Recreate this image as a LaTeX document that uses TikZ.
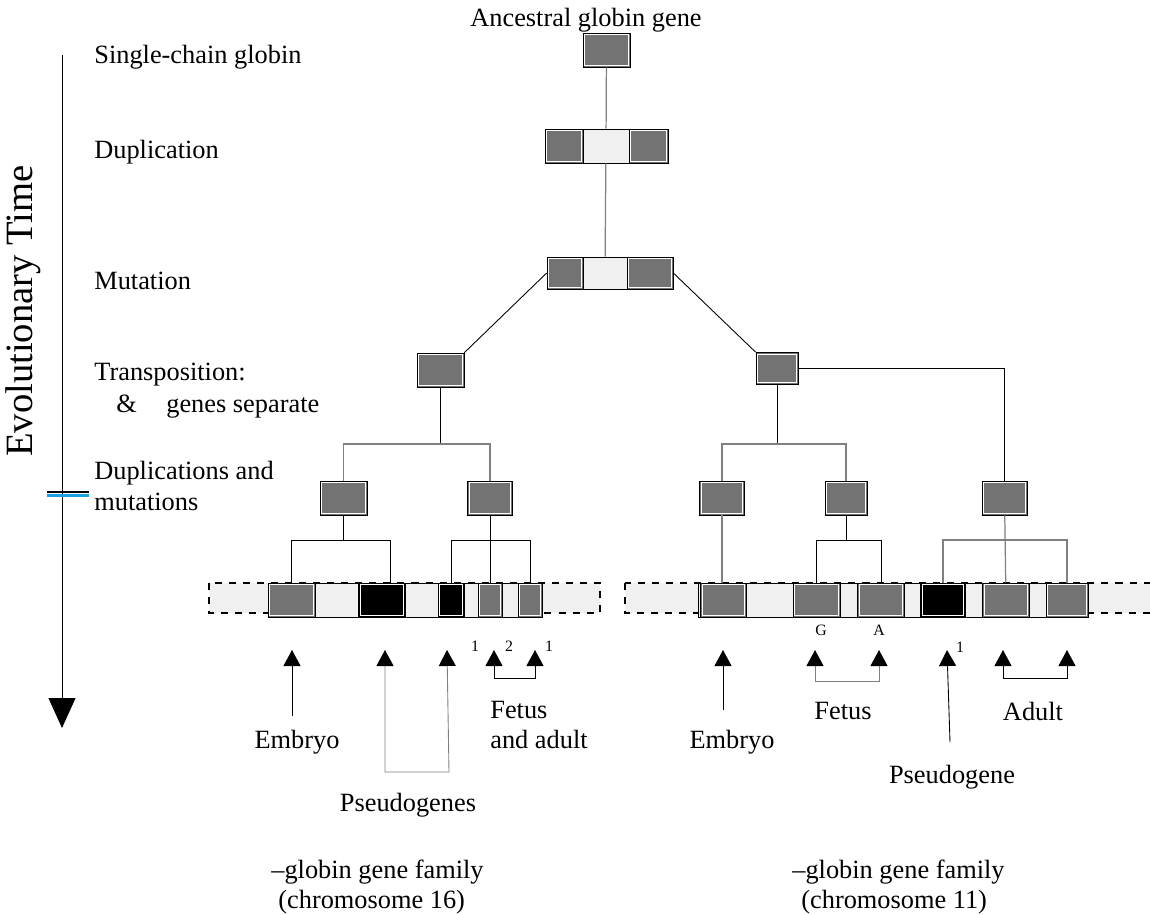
\documentclass[tikz,border=0pt]{standalone}
\usepackage{fontspec}
\setmainfont{Liberation Serif}
\usetikzlibrary{arrows.meta}
\definecolor{genegray}{HTML}{737373}
\definecolor{chromfill}{HTML}{F0F0F0}
\definecolor{tickblue}{HTML}{1BA1E2}
\tikzstyle{inset} = [
    path picture={
        \draw[white, line width=0.7pt]
            ([shift={(1pt,1pt)}]path picture bounding box.south west)
            rectangle
            ([shift={(-1pt,-1pt)}]path picture bounding box.north east);
    }
]
\tikzstyle{gene} = [
    rectangle,
    inner sep=0pt,
    draw=black,
    fill=genegray,
    inset
]
\tikzstyle{pseudo} = [
    rectangle,
    inner sep=0pt,
    draw=black,
    fill=black,
    inset
]
\tikzstyle{spacer} = [
    rectangle,
    inner sep=0pt,
    draw=black,
    fill=chromfill
]
\tikzstyle{caption} = [
    inner sep=0pt,
    font=\fontsize{15}{17.5}\selectfont
]
\tikzstyle{tiny} = [
    inner sep=0pt,
    font=\fontsize{9}{10}\selectfont
]
\tikzstyle{link} = [draw=black, line width=0.5pt]
\tikzstyle{linkgray} = [draw=gray, line width=0.7pt]
\tikzstyle{band} = [
    fill=chromfill,
    draw=black,
    line width=1.5pt,
    dash pattern=on 4pt off 4pt
]
\tikzstyle{arrow} = [
    line width=0.5pt,
    -{Triangle[length=0.32cm, width=0.34cm, color=black]}
]
\tikzstyle{pairarrow} = [
    line width=0.5pt,
    {Triangle[length=0.32cm, width=0.34cm, color=black]}-{Triangle[length=0.32cm, width=0.34cm, color=black]}
]

\begin{document}
\begin{tikzpicture}[x=0.02cm, y=-0.02cm]
        \useasboundingbox (0,0) rectangle (1150,914);

        % time axis
        \coordinate (timetop) at (62,55);
        \coordinate (timeend) at (62,728);
        \draw[line width=0.5pt, -{Triangle[length=0.6cm, width=0.54cm]}] (timetop) -- (timeend);
        \draw[line width=1.2pt] (47,492) -- (89,492);
        \draw[tickblue, line width=1.2pt] (47,495.5) -- (89,495.5);
        \node (timelabel) [rotate=90, inner sep=0pt, font=\fontsize{22}{24}\selectfont] at (23,311) {Evolutionary Time};

        % stages
        \node (stage1) [caption, anchor=west] at (94,57) {Single-chain globin};
        \node (stage2) [caption, anchor=west] at (94,152) {Duplication};
        \node (stage3) [caption, anchor=west] at (94,281) {Mutation};
        \node (stage4) [caption, anchor=west] at (94,375) {Transposition:};
        \node (stage4b) [caption, anchor=west] at (116,407) {\&\hspace{0.59cm}genes separate};
        \node (stage5) [caption, anchor=west, align=left] at (94,486) {Duplications and\\mutations};

        % tree
        \node (ancestor) [caption] at (586,20) {Ancestral globin gene};
        \node (anc) [gene, minimum width=0.94cm, minimum height=0.68cm] at (606.5,50) {};

        \node (dupM) [spacer, minimum width=0.92cm, minimum height=0.68cm] at (606,146) {};
        \node (dupL) [gene, minimum width=0.76cm, minimum height=0.68cm] at (564,146) {};
        \node (dupR) [gene, minimum width=0.78cm, minimum height=0.68cm] at (648.5,146) {};

        \node (mutM) [spacer, minimum width=0.88cm, minimum height=0.64cm] at (605,273) {};
        \node (mutL) [gene, minimum width=0.72cm, minimum height=0.64cm] at (565,273) {};
        \node (mutR) [gene, minimum width=0.92cm, minimum height=0.64cm] at (650,273) {};

        \node (trL) [gene, minimum width=0.94cm, minimum height=0.68cm] at (440.5,370) {};
        \node (trR) [gene, minimum width=0.84cm, minimum height=0.64cm] at (777,368.5) {};

        \node (dA) [gene, minimum width=0.94cm, minimum height=0.68cm] at (343.5,498) {};
        \node (dB) [gene, minimum width=0.9cm, minimum height=0.68cm] at (490,498) {};
        \node (dC) [gene, minimum width=0.9cm, minimum height=0.68cm] at (722,498) {};
        \node (dD) [gene, minimum width=0.84cm, minimum height=0.68cm] at (846,498) {};
        \node (dE) [gene, minimum width=0.9cm, minimum height=0.68cm] at (1004.5,498) {};

        \draw[linkgray] (anc) -- (dupM);
        \draw[linkgray] (dupM) -- (mutM);
        \draw[link] (mutL.west) -- (trL.north east);
        \draw[link] (mutR.east) -- (trR.north west);

        \coordinate (splitL) at (440.5,444);
        \coordinate (splitR) at (777,444);
        \draw[link] (trL) -- (splitL);
        \draw[linkgray] (dA) |- (splitL) -| (dB);
        \draw[link] (trR) -- (splitR);
        \draw[linkgray] (dC) |- (splitR) -| (dD);
        \draw[link] (trR) -| (dE);

        % chromosome 16
        \draw[band] (209,583) rectangle (600,613);
        \node (chromL) [spacer, minimum width=5.48cm, minimum height=0.68cm] at (405,600) {};
        \node (g1) [gene, minimum width=0.94cm, minimum height=0.68cm] at (291.5,600) {};
        \node (g2) [pseudo, minimum width=0.94cm, minimum height=0.68cm] at (382,600) {};
        \node (g3) [pseudo, minimum width=0.52cm, minimum height=0.68cm] at (451,600) {};
        \node (g4) [gene, minimum width=0.48cm, minimum height=0.68cm] at (490,600) {};
        \node (g5) [gene, minimum width=0.48cm, minimum height=0.68cm] at (530,600) {};

        % chromosome 11
        \draw[band] (625,583) rectangle (1160,613);
        \node (chromR) [spacer, minimum width=7.8cm, minimum height=0.68cm] at (893,600) {};
        \node (h1) [gene, minimum width=0.92cm, minimum height=0.68cm] at (723.5,600) {};
        \node (h2) [gene, minimum width=0.94cm, minimum height=0.68cm] at (816.5,600) {};
        \node (h3) [gene, minimum width=0.94cm, minimum height=0.68cm] at (881,600) {};
        \node (h4) [pseudo, minimum width=0.9cm, minimum height=0.68cm] at (943,600) {};
        \node (h5) [gene, minimum width=0.94cm, minimum height=0.68cm] at (1006,600) {};
        \node (h6) [gene, minimum width=0.84cm, minimum height=0.68cm] at (1067,600) {};

        \coordinate (brA) at (343.5,540);
        \coordinate (brB) at (490,540);
        \coordinate (brD) at (846,540);
        \coordinate (brE) at (1004.5,540);
        \draw[link] (dA) -- (brA);
        \draw[link] (g1) |- (brA) -| ([xshift=0.16cm]g2.north);
        \draw[link] (dB) -- (g4);
        \draw[link] (g3) |- (brB) -| (g5);
        \draw[linkgray] (dC) -- (dC |- h1.north);
        \draw[link] (dD) -- (brD);
        \draw[link] (h2) |- (brD) -| (h3);
        \draw[linkgray] (dE) -- (h5);
        \draw[linkgray] (h4) |- (brE) -| (h6);

        \node (gamG) [tiny] at (821,630) {G};
        \node (gamA) [tiny] at (879,630) {A};

        % expression, chromosome 16
        \coordinate (embLfoot) at (292,716);
        \coordinate (embLtip) at (292,650);
        \draw[arrow] (embLfoot) -- (embLtip);
        \node (embryoL) [caption] at (297,742) {Embryo};

        \coordinate (psAtip) at (385,650);
        \coordinate (psAfoot) at (385,772);
        \coordinate (psBfoot) at (449,772);
        \coordinate (psBtip) at (447,650);
        \draw[pairarrow, draw=gray] (psAtip) -- (psAfoot) -- (psBfoot) -- (psBtip);
        \node (pseudoL) [caption] at (408,805) {Pseudogenes};

        \coordinate (faAtip) at (494,650);
        \coordinate (faAfoot) at (494,678);
        \coordinate (faBfoot) at (535,678);
        \coordinate (faBtip) at (535,650);
        \draw[pairarrow] (faAtip) -- (faAfoot) -- (faBfoot) -- (faBtip);
        \node (one1) [tiny] at (475,646) {1};
        \node (two) [tiny] at (509,646) {2};
        \node (one2) [tiny] at (549,646) {1};
        \node (fetusL) [caption, anchor=west, align=left] at (490,725) {Fetus\\and adult};

        % expression, chromosome 11
        \coordinate (embRfoot) at (723,710);
        \coordinate (embRtip) at (723,650);
        \draw[arrow] (embRfoot) -- (embRtip);
        \node (embryoR) [caption] at (732,742) {Embryo};

        \coordinate (feAtip) at (815,650);
        \coordinate (feAfoot) at (815,681);
        \coordinate (feBfoot) at (879,681);
        \coordinate (feBtip) at (879,650);
        \draw[pairarrow, draw=gray] (feAtip) -- (feAfoot) -- (feBfoot) -- (feBtip);
        \node (fetusR) [caption] at (843,711) {Fetus};

        \coordinate (psRfoot) at (950,742);
        \coordinate (psRtip) at (947,650);
        \draw[arrow] (psRfoot) -- (psRtip);
        \node (one3) [tiny] at (960,647) {1};
        \node (pseudoR) [caption] at (952,777) {Pseudogene};

        \coordinate (adAtip) at (1003,650);
        \coordinate (adAfoot) at (1003,678);
        \coordinate (adBfoot) at (1067,678);
        \coordinate (adBtip) at (1067,650);
        \draw[pairarrow] (adAtip) -- (adAfoot) -- (adBfoot) -- (adBtip);
        \node (adult) [caption] at (1033,711) {Adult};

        % families
        \node (famL) [caption, anchor=west, align=left] at (271,887) {--globin gene family\\\hspace{0.14cm}(chromosome 16)};
        \node (famR) [caption, anchor=west, align=left] at (792,887) {--globin gene family\\\hspace{0.18cm}(chromosome 11)};
    \end{tikzpicture}
\end{document}
